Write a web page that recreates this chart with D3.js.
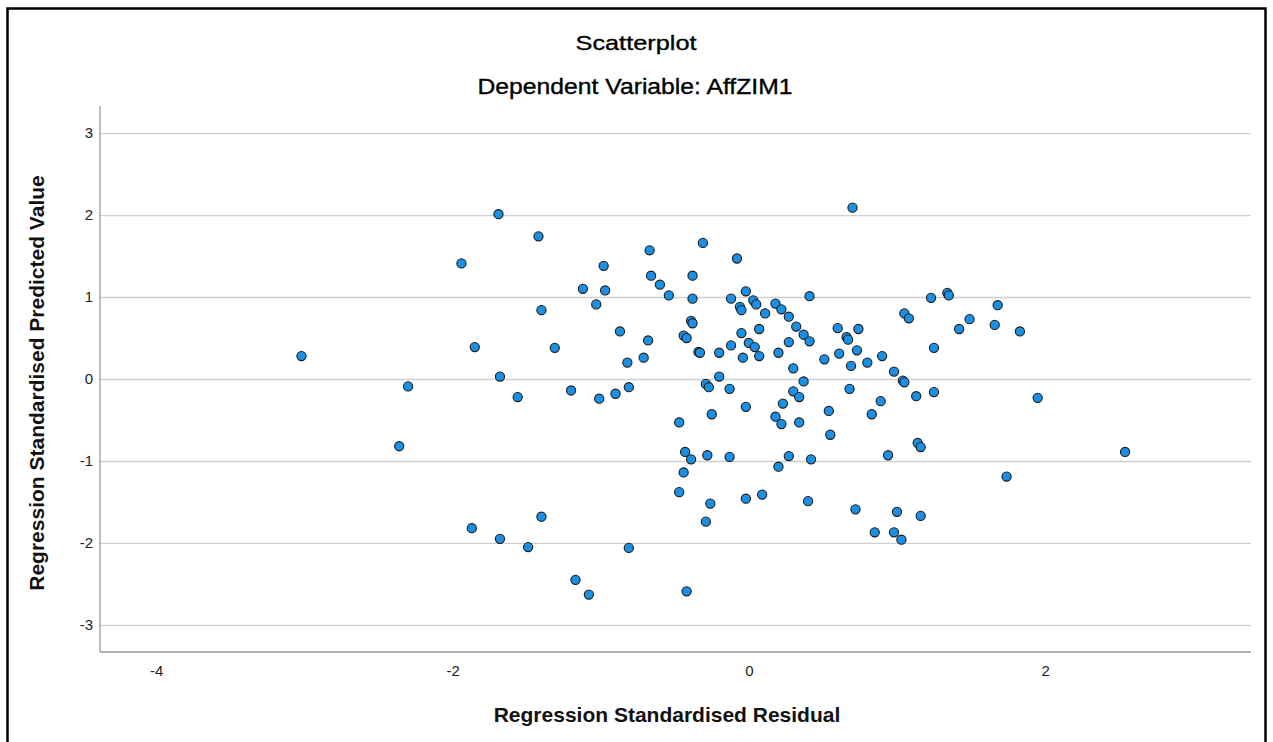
<!DOCTYPE html>
<html>
<head>
<meta charset="utf-8">
<script src="https://cdn.jsdelivr.net/npm/d3@7"></script>
<style>
  html, body { margin: 0; padding: 0; background: #fff; }
  svg { display: block; font-family: "Liberation Sans", Arial, sans-serif; }
</style>
</head>
<body>
<svg id="chart" width="1273" height="742"></svg>
<script>
// ---- data ----
const titleText = "Scatterplot";
const subtitleText = "Dependent Variable: AffZIM1";
const xLabel = "Regression Standardised Residual";
const yLabel = "Regression Standardised Predicted Value";

const xTicks = [-4, -2, 0, 2];
const yTicks = [-3, -2, -1, 0, 1, 2, 3];

const residual = [
  -3.02, -2.36, -2.30, -1.94, -1.85, -1.87, -1.69, -1.68, -1.68, -1.56,
  -1.49, -1.42, -1.40, -1.40, -1.31, -1.17, -1.20, -1.12, -1.08, -1.03,
  -1.01, -0.98, -0.97, -0.90, -0.81, -0.87, -0.68, -0.71, -0.82, -0.81,
  -0.67, -0.66, -0.60, -0.54, -0.31, -0.08, -0.38, -0.38, -0.39, -0.38,
  -0.44, -0.42, -0.34, -0.33, -0.20, -0.12, -0.04, -0.05, 0.00, 0.04,
  0.07, -0.12, -0.02, -0.06, -0.05, 0.03, 0.05, 0.07, -0.20, -0.29,
  -0.27, -0.13, -0.47, -0.25, -0.02, -0.43, -0.39, -0.28, -0.13, -0.44,
  -0.47, -0.26, -0.29, -0.02, 0.09, -0.42, 0.70, 0.41, 1.23, 1.34,
  1.35, 1.68, 1.05, 1.08, 1.49, 1.42, 1.66, 1.25, 0.11, 0.18,
  0.22, 0.27, 0.32, 0.37, 0.41, 0.27, 0.20, 0.60, 0.66, 0.67,
  0.74, 0.61, 0.73, 0.51, 0.69, 0.80, 0.90, 0.98, 1.04, 1.05,
  0.30, 0.37, 0.68, 0.30, 0.34, 0.89, 1.13, 1.25, 0.23, 0.18,
  0.22, 0.34, 0.54, 0.55, 0.83, 1.14, 1.16, 0.94, 0.27, 0.42,
  0.20, 0.40, 0.72, 1.00, 1.16, 0.85, 0.98, 1.03, 1.83, 1.95,
  2.54, 1.74
];

const predicted = [
  0.28, -0.82, -0.09, 1.41, 0.39, -1.82, 2.01, 0.03, -1.95, -0.22,
  -2.05, 1.74, 0.84, -1.68, 0.38, -2.45, -0.14, 1.10, -2.63, 0.91,
  -0.24, 1.38, 1.08, -0.18, -0.10, 0.58, 0.47, 0.26, 0.20, -2.06,
  1.57, 1.26, 1.15, 1.02, 1.66, 1.47, 1.26, 0.98, 0.71, 0.68,
  0.53, 0.50, 0.33, 0.32, 0.32, 0.41, 0.26, 0.56, 0.44, 0.39,
  0.28, 0.98, 1.07, 0.88, 0.84, 0.96, 0.91, 0.61, 0.03, -0.06,
  -0.10, -0.12, -0.53, -0.43, -0.34, -0.89, -0.98, -0.93, -0.95, -1.14,
  -1.38, -1.52, -1.74, -1.46, -1.41, -2.59, 2.09, 1.01, 0.99, 1.05,
  1.02, 0.90, 0.80, 0.74, 0.73, 0.61, 0.66, 0.38, 0.80, 0.92,
  0.85, 0.76, 0.64, 0.54, 0.46, 0.45, 0.32, 0.62, 0.51, 0.48,
  0.61, 0.31, 0.35, 0.24, 0.16, 0.20, 0.28, 0.09, -0.02, -0.04,
  0.13, -0.03, -0.12, -0.15, -0.22, -0.27, -0.21, -0.16, -0.30, -0.46,
  -0.55, -0.53, -0.39, -0.68, -0.43, -0.78, -0.83, -0.93, -0.94, -0.98,
  -1.07, -1.49, -1.59, -1.62, -1.67, -1.87, -1.87, -1.96, 0.58, -0.23,
  -0.89, -1.19
];

// ---- layout ----
const svg = d3.select("#chart");
const plot = { left: 100, right: 1251, top: 106, bottom: 652 };

const x = d3.scaleLinear().domain([-4.38, 3.39]).range([plot.left, plot.right]);
const y = d3.scaleLinear().domain([-3.33, 3.33]).range([plot.bottom, plot.top]);
const tickFmt = d => String(d);   // plain hyphen-minus as in the reference

// outer frame
svg.append("rect")
  .attr("x", 7.5).attr("y", 8.5)
  .attr("width", 1258).attr("height", 780)
  .attr("fill", "none").attr("stroke", "#000").attr("stroke-width", 2.5);

// horizontal gridlines via axis
const grid = svg.append("g")
  .attr("transform", `translate(${plot.left},0)`)
  .call(d3.axisLeft(y).tickValues(yTicks).tickSize(-(plot.right - plot.left)).tickFormat(""));
grid.select(".domain").remove();
grid.selectAll(".tick line").attr("stroke", "#cfcfcf").attr("stroke-width", 1.3);

// y axis
const yAxis = svg.append("g")
  .attr("transform", `translate(${plot.left},0)`)
  .call(d3.axisLeft(y).tickValues(yTicks).tickSize(0).tickPadding(7).tickFormat(tickFmt));
yAxis.select(".domain").remove();
yAxis.selectAll(".tick text")
  .attr("font-family", "Liberation Sans, Arial, sans-serif")
  .attr("font-size", 15).attr("fill", "#222");
svg.append("line")
  .attr("x1", plot.left).attr("x2", plot.left)
  .attr("y1", plot.top).attr("y2", plot.bottom)
  .attr("stroke", "#999").attr("stroke-width", 1.3);

// x axis
const xAxis = svg.append("g")
  .attr("transform", `translate(0,${plot.bottom})`)
  .call(d3.axisBottom(x).tickValues(xTicks).tickSize(0).tickPadding(13).tickFormat(tickFmt));
xAxis.select(".domain").remove();
xAxis.selectAll(".tick text")
  .attr("font-family", "Liberation Sans, Arial, sans-serif")
  .attr("font-size", 15).attr("fill", "#222");
svg.append("line")
  .attr("x1", plot.left).attr("x2", plot.right)
  .attr("y1", plot.bottom).attr("y2", plot.bottom)
  .attr("stroke", "#999").attr("stroke-width", 1.6);

// points
const pts = residual.map((r, i) => ({ r, p: predicted[i] }));
svg.append("g").selectAll("circle").data(pts).join("circle")
  .attr("cx", d => x(d.r))
  .attr("cy", d => y(d.p))
  .attr("r", 4.6)
  .attr("fill", "#1b8fe4")
  .attr("stroke", "#1a1a1a")
  .attr("stroke-width", 1.1);

// titles
svg.append("text")
  .attr("x", 636).attr("y", 50)
  .attr("text-anchor", "middle")
  .attr("font-size", 21).attr("fill", "#000")
  .attr("stroke", "#000").attr("stroke-width", 0.35)
  .attr("textLength", 121).attr("lengthAdjust", "spacingAndGlyphs")
  .text(titleText);
svg.append("text")
  .attr("x", 635).attr("y", 94)
  .attr("text-anchor", "middle")
  .attr("font-size", 22).attr("fill", "#000")
  .attr("stroke", "#000").attr("stroke-width", 0.35)
  .attr("textLength", 315).attr("lengthAdjust", "spacingAndGlyphs")
  .text(subtitleText);

// axis titles
svg.append("text")
  .attr("x", 667).attr("y", 722)
  .attr("text-anchor", "middle")
  .attr("font-size", 21).attr("font-weight", "bold").attr("fill", "#111")
  .text(xLabel);
svg.append("text")
  .attr("transform", "translate(44,383) rotate(-90)")
  .attr("text-anchor", "middle")
  .attr("font-size", 21).attr("font-weight", "bold").attr("fill", "#111")
  .text(yLabel);
</script>
</body>
</html>
